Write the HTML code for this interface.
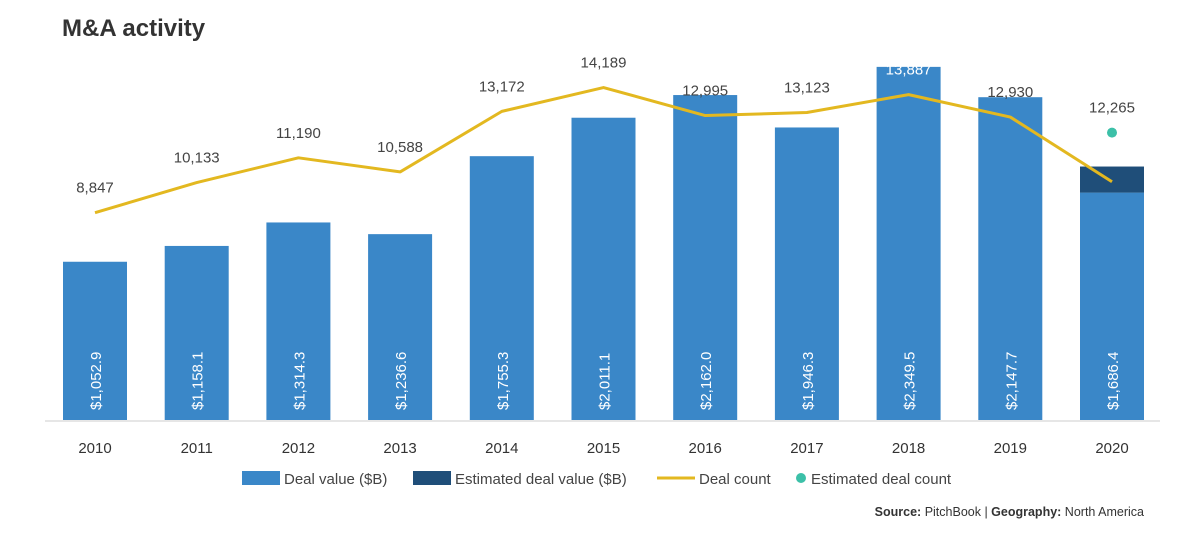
<!DOCTYPE html>
<html><head><meta charset="utf-8"><style>
body{margin:0;background:#fff;font-family:"Liberation Sans",sans-serif;}
svg{display:block}
</style></head><body>
<svg width="1177" height="536" id="chart">
<text x="62" y="36" font-size="24" font-weight="bold" fill="#333">M&amp;A activity</text>
<line x1="45" y1="421" x2="1160" y2="421" stroke="#ccc" stroke-width="1"/>
<g id="bars"></g><g id="line"></g>
<g font-size="15" fill="#444">
<rect x="242" y="471" width="38" height="14" fill="#3a87c8"/>
<text x="284" y="484">Deal value ($B)</text>
<rect x="413" y="471" width="38" height="14" fill="#1f4e79"/>
<text x="455" y="484">Estimated deal value ($B)</text>
<line x1="657" y1="478" x2="695" y2="478" stroke="#e3b820" stroke-width="3"/>
<text x="699" y="484">Deal count</text>
<circle cx="801" cy="478" r="5" fill="#3cc0a8"/>
<text x="811" y="484">Estimated deal count</text>
</g>
<text x="1144" y="516" text-anchor="end" font-size="12.5" fill="#333"><tspan font-weight="bold">Source:</tspan> PitchBook | <tspan font-weight="bold">Geography:</tspan> North America</text>
</svg>
<script>
const years=["2010","2011","2012","2013","2014","2015","2016","2017","2018","2019","2020"];
const dealValue=[1052.9,1158.1,1314.3,1236.6,1755.3,2011.1,2162.0,1946.3,2349.5,2147.7,1513.0];
const estValue=[0,0,0,0,0,0,0,0,0,0,173.4];
const valueLabels=["$1,052.9","$1,158.1","$1,314.3","$1,236.6","$1,755.3","$2,011.1","$2,162.0","$1,946.3","$2,349.5","$2,147.7","$1,686.4"];
const dealCount=[8847,10133,11190,10588,13172,14189,12995,13123,13887,12930,10170];
const countLabels=["8,847","10,133","11,190","10,588","13,172","14,189","12,995","13,123","13,887","12,930",""];
const estCount=[null,null,null,null,null,null,null,null,null,null,12265];
const estCountLabels=["","","","","","","","","","","12,265"];
const NS="http://www.w3.org/2000/svg";
const base=420;
const xc=i=>95+i*101.7;
const yv=v=>base-v*0.1503;
const yc=c=>base-c*0.02343;
function mk(t,a,p,txt){const e=document.createElementNS(NS,t);for(const k in a)e.setAttribute(k,a[k]);if(txt!==undefined)e.textContent=txt;p.appendChild(e);return e;}
const gb=document.getElementById('bars'),gl=document.getElementById('line'),svg=document.getElementById('chart');
years.forEach((y,i)=>{
 const x=xc(i)-32;
 const r=mk('rect',{x:x,y:yv(dealValue[i]),width:64,height:base-yv(dealValue[i]),fill:'#3a87c8'},gb);
 
 
 if(estValue[i]>0){
  const top=yv(dealValue[i]+estValue[i]);
  const e=mk('rect',{x:x,y:top,width:64,height:yv(dealValue[i])-top,fill:'#1f4e79'},gb);
  
  
 }
 const t=mk('text',{x:0,y:0,transform:`translate(${xc(i)+6},${base-10}) rotate(-90)`,'font-size':15,fill:'#fff'},gb,valueLabels[i]);
 
 
 const yl=mk('text',{x:xc(i),y:453,'text-anchor':'middle','font-size':15,fill:'#333'},gb,y);
 
 
});
const pts=dealCount.map((c,i)=>xc(i)+','+yc(c)).join(' ');
const pl=mk('polyline',{points:pts,fill:'none',stroke:'#e3b820','stroke-width':3,'stroke-linejoin':'round'},gl);


dealCount.forEach((c,i)=>{
 if(!countLabels[i])return;
 const t=mk('text',{x:xc(i),y:yc(c)-20,'text-anchor':'middle','font-size':15,fill:i==8?'#fff':'#444'},gl,countLabels[i]);
 
 
});
estCount.forEach((c,i)=>{
 if(c==null)return;
 const d=mk('circle',{cx:xc(i),cy:yc(c),r:5,fill:'#3cc0a8'},gl);
 
 
 const t=mk('text',{x:xc(i),y:yc(c)-20,'text-anchor':'middle','font-size':15,fill:'#444'},gl,estCountLabels[i]);
 
 
});
</script>
</body></html>
